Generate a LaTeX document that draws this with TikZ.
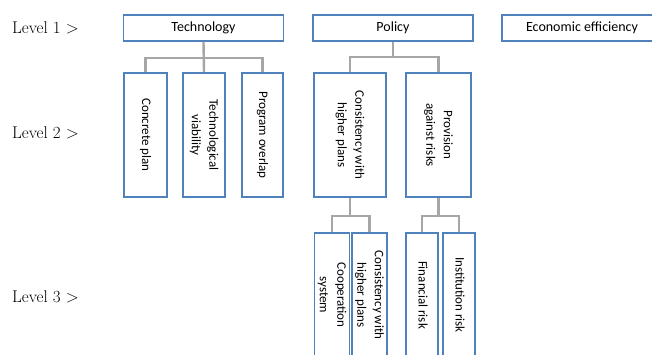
\documentclass[tikz,border=0pt]{standalone}
\usepackage{fontspec}
\usepackage{tikz}

\newfontfamily\boxfont{Carlito}
\definecolor{boxblue}{HTML}{4F81BD}
\definecolor{linkgray}{HTML}{A6A6A6}
\newcommand{\vlabel}[1]{\rotatebox{-90}{\begin{tabular}{@{}c@{}}#1\end{tabular}}}

\tikzset{
	lvl/.style={font=\fontsize{17}{20}\selectfont, anchor=west, inner sep=0},
	head/.style={shape=rectangle, draw=boxblue, line width=1.6pt, fill=white,
		font=\boxfont\fontsize{14}{16}\selectfont, minimum width=160pt, minimum height=26pt, inner sep=0},
	sub/.style={shape=rectangle, draw=boxblue, line width=1.6pt, fill=white,
		font=\boxfont\fontsize{13}{17.5}\selectfont, minimum height=124pt, inner sep=0},
	link/.style={draw=linkgray, line width=2.4pt},
}

\begin{document}
\begin{tikzpicture}[x=1pt,y=-1pt]
	\useasboundingbox (0,0) rectangle (652,354);

	% level names
	\node[lvl] (l1) at (12,28)  {Level 1 >};
	\node[lvl] (l2) at (12,133) {Level 2 >};
	\node[lvl] (l3) at (12,297) {Level 3 >};

	% level 1
	\node[head] (tech) at (203.5,28) {Technology};
	\node[head] (pol)  at (393,28)   {Policy};
	\node[head] (eco)  at (582,28)   {Economic efficiency};

	% level 2
	\node[sub, minimum width=43pt] (cp)  at (145.5,135) {\vlabel{Concrete plan}};
	\node[sub, minimum width=42pt] (tv)  at (204,135)   {\vlabel{Technological\\viability}};
	\node[sub, minimum width=41pt] (po)  at (262.5,135) {\vlabel{Program overlap}};
	\node[sub, minimum width=72pt] (chp) at (350,135)   {\vlabel{Consistency with\\higher plans}};
	\node[sub, minimum width=65pt] (par) at (438.5,135) {\vlabel{Provision\\against risks}};

	% level 3
	\node[sub, minimum width=32pt] (cs)   at (332,295)   {\vlabel{Cooperation\\system}};
	\node[sub, minimum width=33pt] (chp3) at (369.5,295) {\vlabel{Consistency with\\higher plans}};
	\node[sub, minimum width=32pt] (fr)   at (422,295)   {\vlabel{Financial risk}};
	\node[sub, minimum width=32pt] (ir)   at (459,295)   {\vlabel{Institution risk}};

	% links
	\draw[link] (tech.south) -- (tv.north);
	\draw[link] (tech.south |- 0,58) -| (cp.north);
	\draw[link] (tech.south |- 0,58) -| (po.north);
	\draw[link] (pol.south) -- (pol.south |- 0,57) -| (chp.north);
	\draw[link] (pol.south |- 0,57) -| (par.north);
	\draw[link] (chp.south) -- (chp.south |- 0,216) -| (cs.north);
	\draw[link] (chp.south |- 0,216) -| (chp3.north);
	\draw[link] (par.south) -- (par.south |- 0,216) -| (fr.north);
	\draw[link] (par.south |- 0,216) -| (ir.north);
\end{tikzpicture}
\end{document}
